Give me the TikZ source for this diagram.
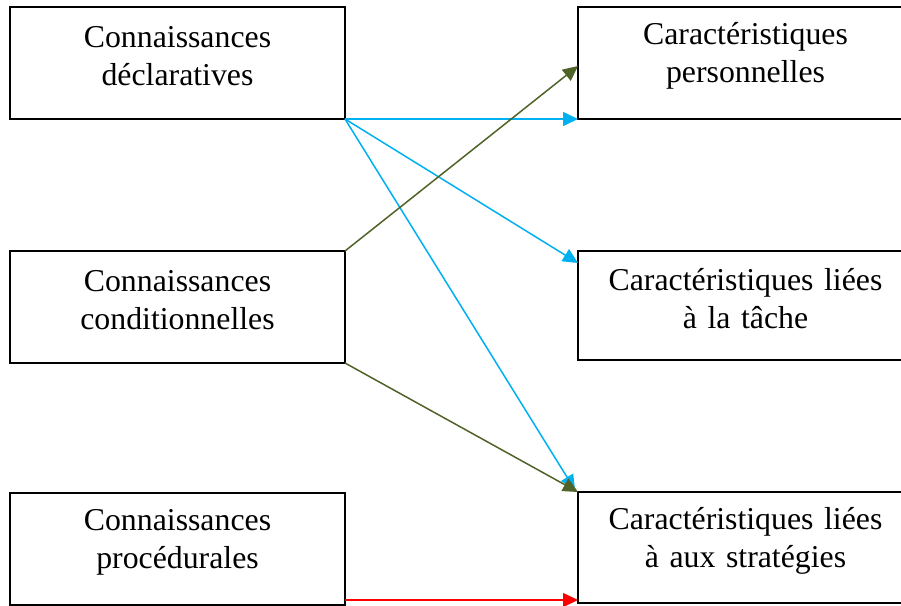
\documentclass[tikz,border=0pt]{standalone}
\usepackage{fontspec}
\setmainfont{Liberation Serif}
\usetikzlibrary{positioning,arrows.meta}
\definecolor{arrowblue}{HTML}{00B0F0}
\definecolor{arrowgreen}{HTML}{4F6228}
\definecolor{arrowred}{HTML}{FF0000}

\begin{document}
\begin{tikzpicture}[x=1pt,y=-1pt,>={Triangle[length=15pt,width=14pt]},node distance=132pt and 233pt,
	every node/.style={shape=rectangle,draw,line width=1.8pt,outer sep=0pt,minimum width=335pt,minimum height=112pt,text width=310pt,align=center,font=\fontsize{31.8}{38}\selectfont,execute at end node={\endgraf\vspace{14pt}}},]
		\clip (0,0) rectangle (901,605);
		% create the nodes
		\node (decl) [anchor=north west] at (10,7) {Connaissances\\déclaratives};
		\node (cond) [below =of decl]{Connaissances\\conditionnelles};
		\node (proc) [below =130pt of cond]{Connaissances\\procédurales};
		
		\node (perso) [right =of decl]{Caractéristiques\\personnelles};
		\node (tache) [below =of perso,minimum height=109pt]{Caractéristiques liées\\à la tâche};
		\node (strat) [below =of tache,minimum height=111pt]{Caractéristiques liées\\à aux stratégies};
		
		% connect the nodes
		\draw[->,arrowblue,line width=1.5pt] (decl.south east) to (perso.south west);
		\draw[->,arrowblue,line width=1.5pt] (decl.south east) to ([yshift=-12pt]tache.north west);
		\draw[->,arrowblue,line width=1.5pt] (decl.south east) to ([xshift=-3pt,yshift=2pt]strat.north west);
		\draw[->,arrowgreen,line width=1.5pt] (cond.north east) to ([yshift=-3pt]perso.west);
		\draw[->,arrowgreen,line width=1.5pt] (cond.south east) to (strat.north west);
		\draw[->,arrowred,line width=1.5pt] ([yshift=5pt]proc.south east) to ([yshift=3pt]strat.south west);
		
	\end{tikzpicture}
\end{document}
